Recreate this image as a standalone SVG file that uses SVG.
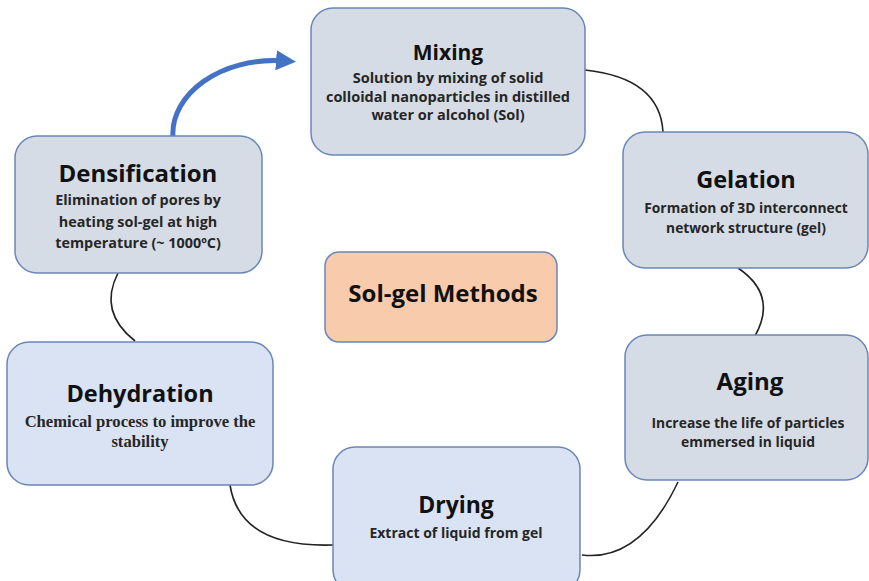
<svg xmlns="http://www.w3.org/2000/svg" width="869" height="581" viewBox="0 0 869 581">
<defs>
<style>
.box{stroke:#6a87b8;stroke-width:1.5}
.g{fill:#d6dce5}
.b{fill:#dae3f3}
.o{fill:#f8cbad}
.t{font-family:"Open Sans",Lato,sans-serif;font-weight:bold;fill:#111;text-anchor:middle}
.s{font-family:"Open Sans",Lato,sans-serif;font-weight:bold;fill:#262626;text-anchor:middle}
.tm{font-family:"Liberation Serif",serif;font-weight:bold;fill:#262626;text-anchor:middle}
.c{fill:none;stroke:#222;stroke-width:1.6}
</style>
<marker id="ah" viewBox="0 0 10 10" refX="5" refY="5" markerWidth="4" markerHeight="4" orient="auto" markerUnits="strokeWidth">
<path d="M0,0 L10,5 L0,10 z" fill="#4472c4"/>
</marker>
</defs>
<rect width="869" height="581" fill="#fff"/>
<g id="connectors">
<path class="c" d="M585,70 Q660,78 663,132"/>
<path class="c" d="M738,268 Q778,295 755,336"/>
<path class="c" d="M678,482 Q640,562 582,555"/>
<path class="c" d="M230,485 Q240,548 333,545"/>
<path class="c" d="M135,341 Q98,312 118,273"/>
<path d="M173,137 C170,95 220,56 286,61" fill="none" stroke="#4472c4" stroke-width="5" marker-end="url(#ah)"/>
</g>
<g id="mixing">
<rect class="box g" x="311" y="8" width="274" height="147" rx="22"/>
<text class="t" x="448" y="60" font-size="21">Mixing</text>
<text class="s" x="448" y="83" font-size="14.5">Solution by mixing of solid</text>
<text class="s" x="448" y="102" font-size="14.5">colloidal nanoparticles in distilled</text>
<text class="s" x="448" y="120" font-size="14.5">water or alcohol (Sol)</text>
</g>
<g id="densification">
<rect class="box g" x="15" y="136" width="247" height="137" rx="22"/>
<text class="t" x="138" y="182" font-size="24">Densification</text>
<text class="s" x="138" y="205" font-size="14.4">Elimination of pores by</text>
<text class="s" x="138" y="227" font-size="14.4">heating sol-gel at high</text>
<text class="s" x="138" y="248" font-size="14.4">temperature (~ 1000ºC)</text>
</g>
<g id="gelation">
<rect class="box g" x="623" y="132" width="245" height="136" rx="22"/>
<text class="t" x="746" y="188" font-size="23.5">Gelation</text>
<text class="s" x="746" y="213" font-size="13.8">Formation of 3D interconnect</text>
<text class="s" x="746" y="233" font-size="13.8">network structure (gel)</text>
</g>
<g id="solgel">
<rect class="box o" x="325" y="252" width="232" height="90" rx="14"/>
<text class="t" x="443" y="302" font-size="24">Sol-gel Methods</text>
</g>
<g id="dehydration">
<rect class="box b" x="7" y="342" width="266" height="143" rx="22"/>
<text class="t" x="140" y="402" font-size="23.5">Dehydration</text>
<text class="tm" x="140" y="427" font-size="16.6">Chemical process to improve  the</text>
<text class="tm" x="140" y="447" font-size="16.6">stability</text>
</g>
<g id="aging">
<rect class="box g" x="625" y="335" width="243" height="145" rx="22"/>
<text class="t" x="750" y="390" font-size="24">Aging</text>
<text class="s" x="748" y="428" font-size="13.9">Increase the life of particles</text>
<text class="s" x="748" y="447" font-size="13.9">emmersed in liquid</text>
</g>
<g id="drying">
<rect class="box b" x="333" y="447" width="247" height="145" rx="22"/>
<text class="t" x="456" y="513" font-size="23">Drying</text>
<text class="s" x="456" y="538" font-size="14">Extract of liquid from gel</text>
</g>
</svg>
